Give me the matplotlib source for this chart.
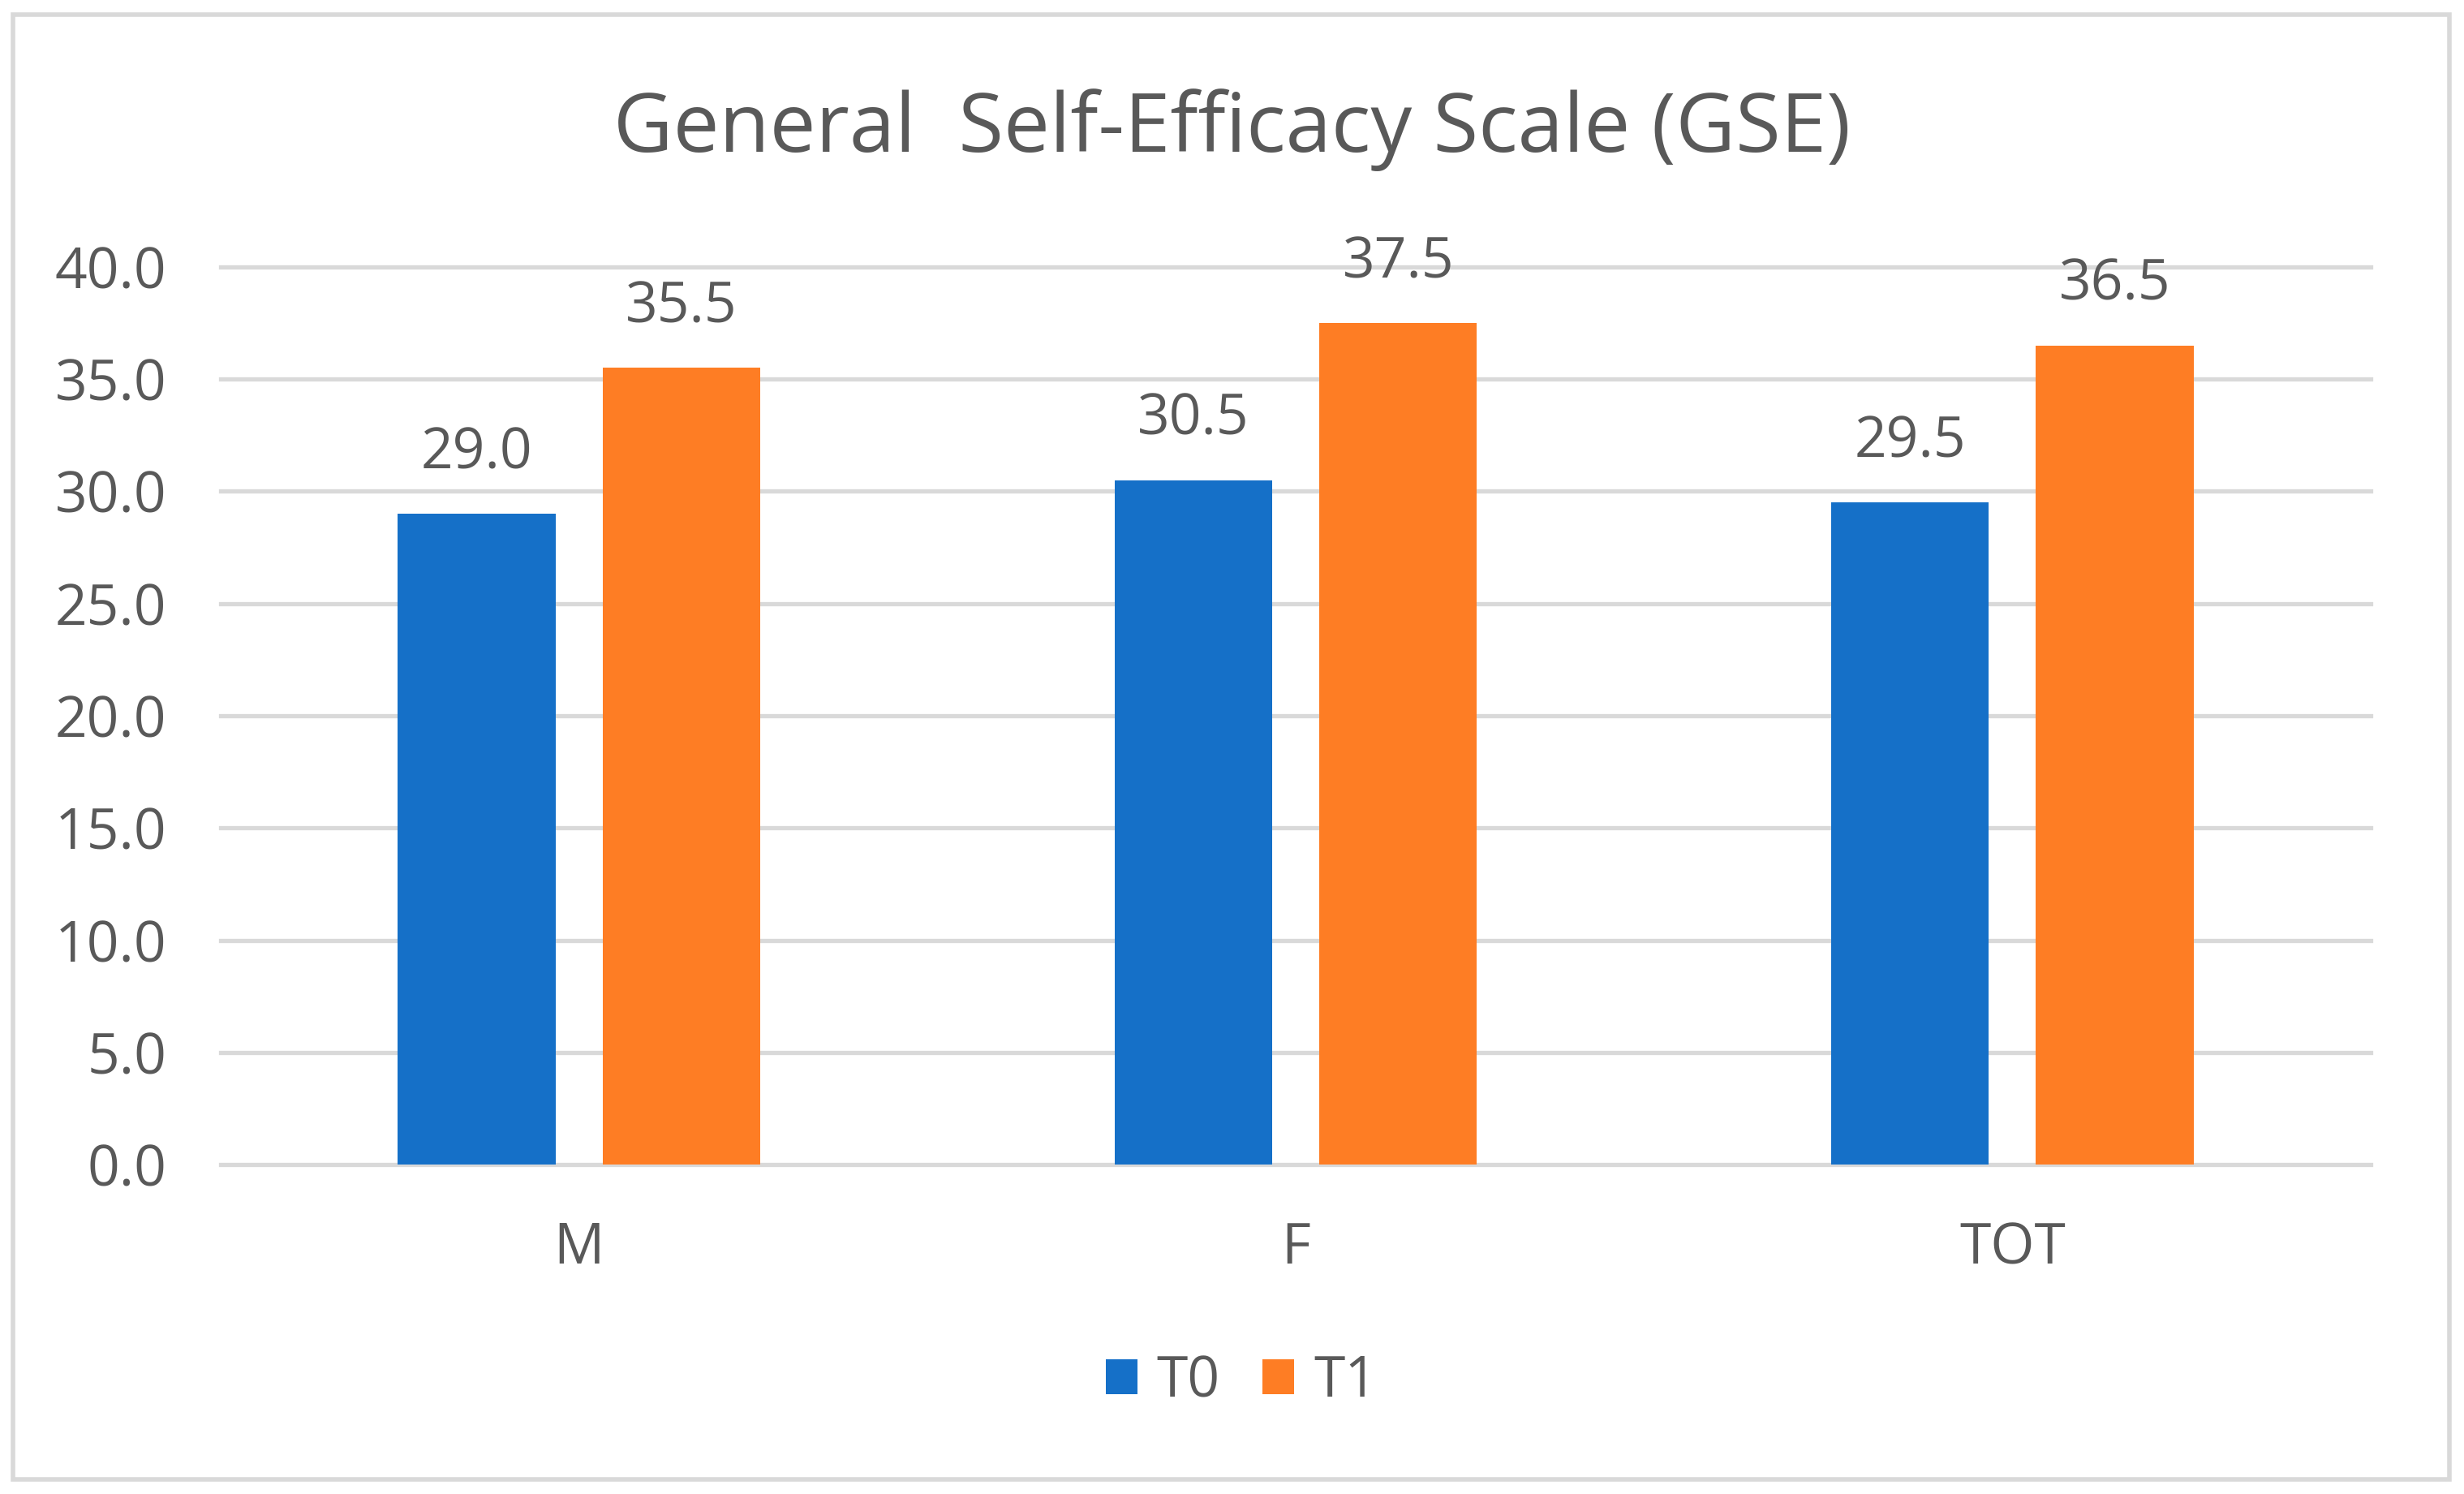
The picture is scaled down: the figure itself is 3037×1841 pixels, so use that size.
import matplotlib

matplotlib.use("Agg")
import matplotlib.pyplot as plt
import numpy as np
from matplotlib.patches import Rectangle

# values
categories = ["M", "F", "TOT"]
t0_values = [29.0, 30.5, 29.5]
t1_values = [35.5, 37.5, 36.5]
series_names = ["T0", "T1"]
y_ticks = [0, 5, 10, 15, 20, 25, 30, 35, 40]
title = "General  Self-Efficacy Scale (GSE)"

text_color = "#595959"
grid_color = "#D9D9D9"
blue = "#1570C8"
orange = "#FE7D24"

plt.rcParams["font.family"] = ["Open Sans", "DejaVu Sans"]

W, H, DPI = 3037, 1841, 200
fig = plt.figure(figsize=(W / DPI, H / DPI), dpi=DPI)
fig.patch.set_facecolor("white")

# outer chart border
fig.patches.append(
    Rectangle(
        (16 / W, 1 - 1823 / H),
        (3019 - 16) / W,
        (1823 - 18) / H,
        transform=fig.transFigure,
        fill=False,
        edgecolor=grid_color,
        linewidth=2.0,
    )
)

ax = fig.add_axes([272 / W, 1 - 1435 / H, (2922 - 272) / W, (1435 - 329) / H])

x = np.arange(len(categories))
width = 0.22
offset = 0.143
bars0 = ax.bar(x - offset, t0_values, width, color=blue, label=series_names[0], zorder=3)
bars1 = ax.bar(x + offset, t1_values, width, color=orange, label=series_names[1], zorder=3)

for bars in (bars0, bars1):
    labels = ax.bar_label(bars, fmt="%.1f", padding=14, fontsize=25, color=text_color)
    for lbl in labels:
        lbl.set_clip_on(False)

ax.set_xlim(-0.5, len(categories) - 0.5)
ax.set_ylim(0, 40)
ax.set_yticks(y_ticks)
ax.set_yticklabels([f"{v:.1f}" for v in y_ticks])
ax.set_xticks(x)
ax.set_xticklabels(categories)

ax.tick_params(axis="y", length=0, pad=24, labelsize=25, labelcolor=text_color)
ax.tick_params(axis="x", length=0, pad=25, labelsize=25, labelcolor=text_color)

ax.yaxis.grid(True, color=grid_color, linewidth=1.9, zorder=0)
for line in ax.get_ygridlines():
    line.set_clip_on(False)
ax.set_axisbelow(True)
for spine in ax.spines.values():
    spine.set_visible(False)

fig.text(0.5, 1 - 160 / H, title, ha="center", va="center", fontsize=36.5, color=text_color)

fig.legend(
    loc="center",
    bbox_to_anchor=(1530 / W, 1 - 1703 / H),
    ncol=2,
    frameon=False,
    fontsize=25,
    labelcolor=text_color,
    handlelength=0.56,
    handleheight=0.56,
    handletextpad=0.35,
    columnspacing=0.75,
)

fig.savefig("out.png", dpi=DPI)
